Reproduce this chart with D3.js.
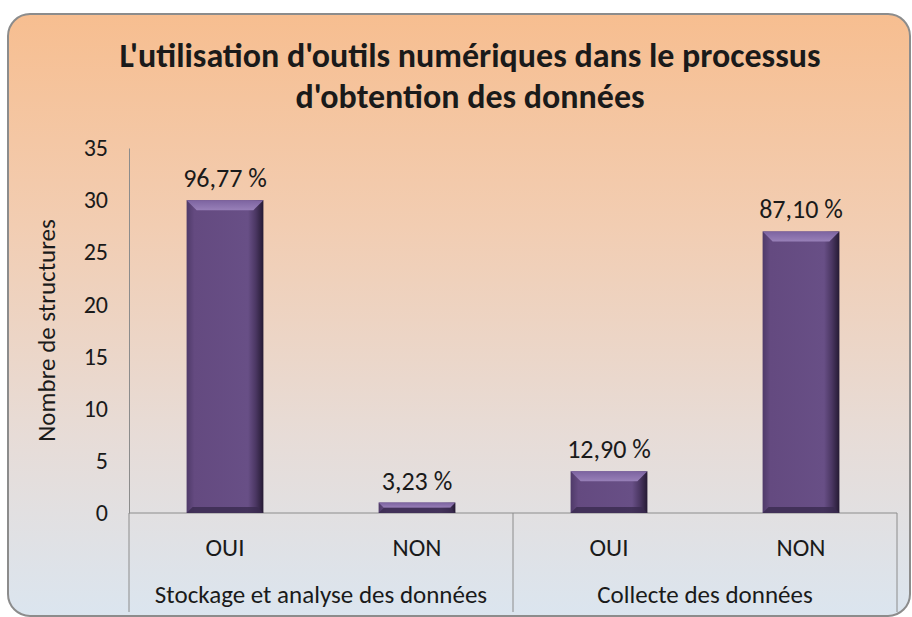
<!DOCTYPE html>
<html>
<head>
<meta charset="utf-8">
<script src="https://cdn.jsdelivr.net/npm/d3@7"></script>
<style>
body{margin:0;background:#ffffff;}
text{font-family:Carlito,Calibri,Lato,sans-serif;fill:#1a1a1a;}
.title{font-weight:bold;font-size:34px;}
.tick text{font-size:24px;}
.label{font-size:25px;}
.value{font-size:26px;}
</style>
</head>
<body>
<svg id="graph"></svg>
<script>
var categories=["OUI","NON","OUI","NON"];
var groups=["Stockage et analyse des données","Collecte des données"];
var values=[30,1,4,27];
var pctLabels=["96,77 %","3,23 %","12,90 %","87,10 %"];
var yTicks=[0,5,10,15,20,25,30,35];
var titleLines=["L'utilisation d'outils numériques dans le processus","d'obtention des données"];
var yTitle="Nombre de structures";

var screen={width:912,height:617}
var plot={left:129,right:897,top:148,bottom:513}

var svg=d3.select("#graph")
    .attr("width",screen.width)
    .attr("height",screen.height)

var defs=svg.append("defs")
var bg=defs.append("linearGradient")
    .attr("id","bg")
    .attr("x1",0).attr("y1",0).attr("x2",0).attr("y2",1)
bg.append("stop").attr("offset","0%").attr("stop-color","#f7be90")
bg.append("stop").attr("offset","35%").attr("stop-color","#f2cdb2")
bg.append("stop").attr("offset","70%").attr("stop-color","#e7dcd7")
bg.append("stop").attr("offset","100%").attr("stop-color","#dbe5ef")

var barGrad=defs.append("linearGradient")
    .attr("id","barGrad")
    .attr("x1",0).attr("y1",0).attr("x2",1).attr("y2",0)
barGrad.append("stop").attr("offset","0%").attr("stop-color","#4f3a69")
barGrad.append("stop").attr("offset","10%").attr("stop-color","#644a80")
barGrad.append("stop").attr("offset","80%").attr("stop-color","#684f86")
barGrad.append("stop").attr("offset","90%").attr("stop-color","#4b3763")
barGrad.append("stop").attr("offset","100%").attr("stop-color","#251a33")

var bevelGrad=defs.append("linearGradient")
    .attr("id","bevelGrad")
    .attr("x1",0).attr("y1",0).attr("x2",0).attr("y2",1)
bevelGrad.append("stop").attr("offset","0%").attr("stop-color","#7c63a0")
bevelGrad.append("stop").attr("offset","100%").attr("stop-color","#9880b8")

// frame
svg.append("rect")
    .attr("x",8).attr("y",14)
    .attr("width",902).attr("height",602)
    .attr("rx",22).attr("ry",22)
    .attr("fill","url(#bg)")
    .attr("stroke","#8c8c8c")
    .attr("stroke-width",2)

var xScale=d3.scaleBand()
    .domain(d3.range(categories.length))
    .range([plot.left,plot.right])
    .paddingInner(0.6)
    .paddingOuter(0.3)

var groupScale=d3.scaleBand()
    .domain(d3.range(groups.length))
    .range([plot.left,plot.right])

var yScale=d3.scaleLinear()
    .domain([0,35])
    .range([plot.bottom,plot.top])

// title
svg.append("g")
    .selectAll("text")
    .data(titleLines)
    .enter()
    .append("text")
    .classed("title",true)
    .attr("text-anchor","middle")
    .attr("x",470)
    .attr("y",function(d,i){return 67+i*41})
    .text(function(d){return d})

// y axis
var yAxis=d3.axisLeft(yScale)
    .tickValues(yTicks)
    .tickSize(0)
    .tickPadding(21)
svg.append("g")
    .attr("transform","translate("+plot.left+",0)")
    .call(yAxis)
    .call(function(g){g.select(".domain").attr("stroke","#8c8c8c")})

svg.append("text")
    .classed("label",true)
    .attr("text-anchor","middle")
    .attr("transform","translate(55,"+((plot.top+plot.bottom)/2)+") rotate(-90)")
    .text(yTitle)

// category axis
var xAxisG=svg.append("g")
xAxisG.append("line")
    .attr("x1",plot.left).attr("x2",plot.right)
    .attr("y1",plot.bottom).attr("y2",plot.bottom)
    .attr("stroke","#8c8c8c")
xAxisG.selectAll("line.div")
    .data(d3.range(groups.length+1))
    .enter()
    .append("line")
    .attr("class","div")
    .attr("x1",function(d){return d<groups.length?groupScale(d):plot.right})
    .attr("x2",function(d){return d<groups.length?groupScale(d):plot.right})
    .attr("y1",plot.bottom)
    .attr("y2",612)
    .attr("stroke","#8c8c8c")
xAxisG.selectAll("text.cat")
    .data(categories)
    .enter()
    .append("text")
    .attr("class","label cat")
    .attr("text-anchor","middle")
    .attr("x",function(d,i){return xScale(i)+xScale.bandwidth()/2})
    .attr("y",556)
    .text(function(d){return d})
xAxisG.selectAll("text.grp")
    .data(groups)
    .enter()
    .append("text")
    .attr("class","label grp")
    .attr("text-anchor","middle")
    .attr("x",function(d,i){return groupScale(i)+groupScale.bandwidth()/2})
    .attr("y",603)
    .text(function(d){return d})

// bars with bevel
var bars=svg.append("g")
    .selectAll("g")
    .data(values)
    .enter()
    .append("g")
bars.append("rect")
    .attr("x",function(d,i){return xScale(i)})
    .attr("y",function(d){return yScale(d)})
    .attr("width",xScale.bandwidth())
    .attr("height",function(d){return plot.bottom-yScale(d)})
    .attr("fill","url(#barGrad)")
bars.append("path")
    .attr("fill","url(#bevelGrad)")
    .attr("d",function(d,i){
        var x0=xScale(i),x1=x0+xScale.bandwidth(),y0=yScale(d)
        var b=Math.min(10,(plot.bottom-y0)/2)
        return "M"+x0+","+y0+"L"+x1+","+y0+"L"+(x1-b)+","+(y0+b)+"L"+(x0+b)+","+(y0+b)+"Z"
    })
bars.append("path")
    .attr("fill","#3a2a4f")
    .attr("opacity",0.8)
    .attr("d",function(d,i){
        var x0=xScale(i),x1=x0+xScale.bandwidth(),y0=yScale(d),y1=plot.bottom
        var b=Math.min(6,(y1-y0)/2)
        return "M"+x0+","+y1+"L"+x1+","+y1+"L"+(x1-b)+","+(y1-b)+"L"+(x0+b)+","+(y1-b)+"Z"
    })

bars.append("text")
    .classed("value",true)
    .attr("text-anchor","middle")
    .attr("x",function(d,i){return xScale(i)+xScale.bandwidth()/2})
    .attr("y",function(d){return yScale(d)-13})
    .text(function(d,i){return pctLabels[i]})
</script>
</body>
</html>
